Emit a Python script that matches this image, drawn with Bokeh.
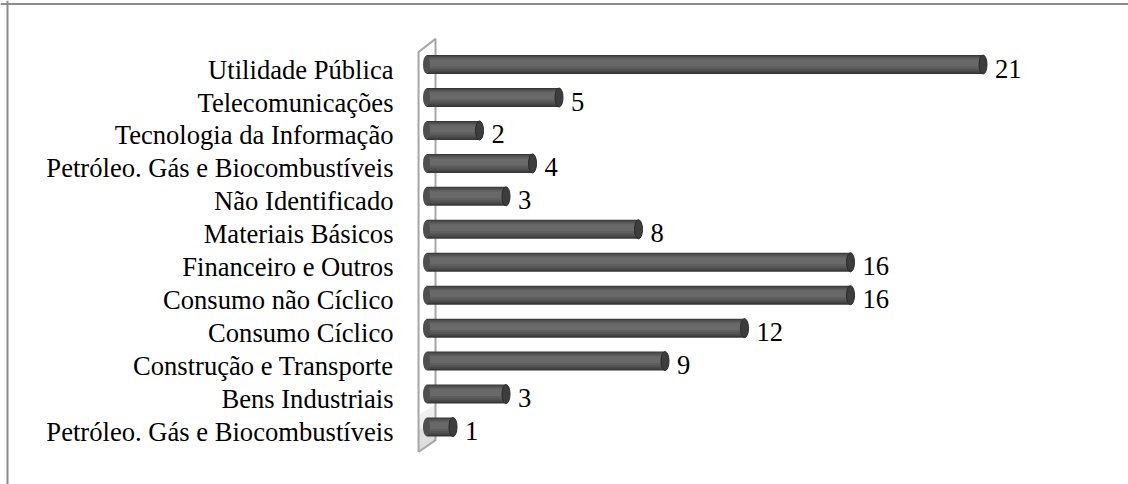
from bokeh.plotting import figure
from bokeh.models import Range1d, Span, ColumnDataSource
from bokeh.core.properties import value
from bokeh.embed import file_html
from bokeh.resources import INLINE

# Sectors listed bottom to top, with company counts
sectors = [
    "Petróleo. Gás e Biocombustíveis",
    "Bens Industriais",
    "Construção e Transporte",
    "Consumo Cíclico",
    "Consumo não Cíclico",
    "Financeiro e Outros",
    "Materiais Básicos",
    "Não Identificado",
    "Petróleo. Gás e Biocombustíveis",
    "Tecnologia da Informação",
    "Telecomunicações",
    "Utilidade Pública",
]
counts = [1, 3, 9, 12, 16, 16, 8, 3, 4, 2, 5, 21]

W, H = 1128, 484
px_per_unit = 26.5
zero_px = 426.0
row_px = 32.95
bottom_row_px = 426.5

x_start = -zero_px / px_per_unit
x_end = x_start + W / px_per_unit
y_end = bottom_row_px / row_px
y_start = y_end - H / row_px

idx = list(range(len(sectors)))
src = ColumnDataSource(dict(y=idx, v=counts, name=sectors,
                            lbl=[str(c) for c in counts], zero=[0] * len(idx)))

p = figure(width=W, height=H, output_backend="svg", toolbar_location=None,
           x_range=Range1d(x_start, x_end), y_range=Range1d(y_start, y_end),
           min_border=0, outline_line_color=None, background_fill_color="white",
           border_fill_color="white")
p.xaxis.visible = False
p.yaxis.visible = False
p.xgrid.visible = False
p.ygrid.visible = False

# Chart area frame (top and left edges)
left_edge = x_start + 7 / px_per_unit
top_edge = y_end - 3.5 / row_px
p.add_layout(Span(location=left_edge, dimension="height", line_color="#8c8c8c", line_width=2))
p.add_layout(Span(location=top_edge, dimension="width", line_color="#8c8c8c", line_width=2))

# Back wall of the 3D plot area
wx0, wx1 = -0.30, 0.34
wy_top0, wy_top1 = 11.38, 11.78
wy_bot0, wy_bot1 = -0.76, -0.40
p.patch([wx0, wx1, wx1, wx0], [-0.1, 0.25, wy_bot1, wy_bot0],
        fill_color="#d6d6d6", fill_alpha=0.8, line_color=None)
p.patch([wx0, wx1, wx1, wx0], [0.35, 0.7, 0.25, -0.1],
        fill_color="#ebebeb", fill_alpha=0.8, line_color=None)
p.line([wx0, wx0, wx1, wx1], [wy_bot0, wy_top0, wy_top1, wy_bot1 + 0.6],
       line_color="#a6a6a6", line_width=2)
p.line([wx0, wx1, wx1], [wy_bot0, wy_bot1, wy_bot1 + 0.6],
       line_color="#a6a6a6", line_width=2)

# Cylinder bars built from shaded layers
bh = 19 / row_px
layers = [
    (1.00, 0.00, "#363636"),
    (0.88, 0.02, "#464646"),
    (0.74, 0.04, "#535353"),
    (0.56, 0.06, "#5e5e5e"),
    (0.36, 0.08, "#696969"),
]
for frac, shift, col in layers:
    h = bh * frac
    p.hbar(y=[i + shift * bh for i in idx], left=0, right=counts, height=h,
           fill_color=col, line_color=None)
# Rounded left ends
p.ellipse(x="zero", y="y", width=7, height=18, width_units="screen", height_units="screen",
          source=src, fill_color="#4f4f4f", line_color=None)
# End caps
p.ellipse(x="v", y="y", width=8, height=19, width_units="screen", height_units="screen",
          source=src, fill_color="#3d3d3d", line_color="#2a2a2a", line_width=1)

serif = value("'Liberation Serif', 'Times New Roman', serif")
# Category labels
p.text(x="zero", y="y", text="name", source=src, x_offset=-33, y_offset=5,
       text_align="right", text_baseline="middle",
       text_font=serif, text_font_size="26.6px", text_color="#000000")
# Value labels
p.text(x="v", y="y", text="lbl", source=src, x_offset=12, y_offset=4,
       text_align="left", text_baseline="middle",
       text_font=serif, text_font_size="26.6px", text_color="#000000")

open("out.html", "w").write(file_html(p, INLINE))
